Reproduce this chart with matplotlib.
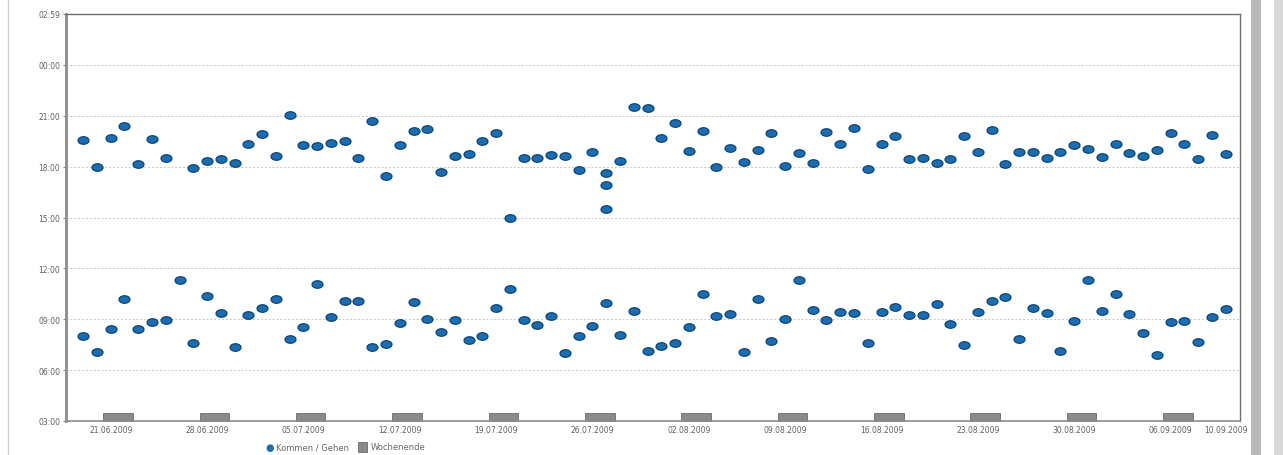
import numpy as np
import pandas as pd
import matplotlib
matplotlib.use("Agg")
import matplotlib.pyplot as plt
import matplotlib.dates as mdates
from matplotlib.path import Path
from matplotlib.transforms import Affine2D
from matplotlib.patches import Rectangle

# one value per day, 19.06.2009 .. 10.09.2009
days = pd.date_range("2009-06-19", "2009-09-10", freq="D")

kommen = [
    "08:01", "07:04", "08:25", "10:12", "08:25", "08:50", "08:57", "11:19", "07:36", "10:22",
    "09:22", "07:22", "09:15", "09:40", "10:12", "07:50", "08:32", "11:05", "09:08", "10:05",
    "10:05", "07:22", "07:32", "08:47", "10:01", "09:01", "08:15", "08:57", "07:47", "08:01",
    "09:40", "10:47", "08:57", "08:40", "09:11", "07:01", "08:01", "08:36", "09:58", "08:04",
    "09:29", "07:08", "07:25", "07:36", "08:32", "10:29", "09:11", "09:19", "07:04", "10:12",
    "07:43", "09:01", "11:19", "09:33", "08:57", "09:26", "09:22", "07:36", "09:26", "09:43",
    "09:15", "09:15", "09:54", "08:43", "07:29", "09:26", "10:05", "10:19", "07:50", "09:40",
    "09:22", "07:08", "08:54", "11:19", "09:29", "10:29", "09:19", "08:11", "06:53", "08:50",
    "08:54", "07:40", "09:08", "09:36",
]

gehen = [
    "19:35", "17:58", "19:41", "20:23", "18:09", "19:39", "18:31", None, "17:54", "18:20",
    "18:27", "18:13", "19:20", "19:55", "18:39", "21:04", "19:15", "19:13", "19:24", "19:31",
    "18:32", "20:40", "17:26", "19:15", "20:05", "20:14", "17:41", "18:38", "18:45", "19:31",
    "19:58", "14:59", "18:32", "18:32", "18:41", "18:38", "17:49", "18:52", "17:37", "18:19",
    "21:31", "21:27", "19:40", "20:34", "18:54", "20:05", "18:00", "19:06", "18:15", "18:59",
    "20:00", "18:02", "18:48", "18:12", "20:03", "19:20", "20:17", "17:52", "19:21", "19:48",
    "18:27", "18:32", "18:13", "18:27", "19:47", "18:53", "20:10", "18:09", "18:51", "18:52",
    "18:29", "18:52", "19:17", "19:02", "18:33", "19:19", "18:48", "18:37", "18:59", "19:58",
    "19:19", "18:27", "19:51", "18:45",
]

# extra bookings on 27.07.2009
extra_days = pd.to_datetime(["2009-07-27", "2009-07-27"])
extra_gehen = ["16:56", "15:29"]

tick_days = pd.to_datetime([
    "2009-06-21", "2009-06-28", "2009-07-05", "2009-07-12", "2009-07-19", "2009-07-26",
    "2009-08-02", "2009-08-09", "2009-08-16", "2009-08-23", "2009-08-30", "2009-09-06",
    "2009-09-10",
])
saturdays = pd.date_range("2009-06-20", "2009-09-05", freq="7D")

y_ticks = [3, 6, 9, 12, 15, 18, 21, 24, 27]
y_labels = ["03:00", "06:00", "09:00", "12:00", "15:00", "18:00", "21:00", "00:00", "02:59"]


def to_hours(t):
    if t is None:
        return np.nan
    h, m = t.split(":")
    return int(h) + int(m) / 60


# wide ellipse marker like the Java chart
ellipse = Path.unit_circle().transformed(Affine2D().scale(1.45, 1.0))

fig = plt.figure(figsize=(12.83, 4.56), dpi=100)
ax = fig.add_axes([66 / 1283, 34 / 456, 1174 / 1283, 407 / 456])

mk = dict(marker=ellipse, s=62, color="#1b6db0", edgecolors="#0c4478", linewidths=0.9, zorder=3)
ax.scatter(days, [to_hours(t) for t in kommen], **mk)
ax.scatter(days, [to_hours(t) for t in gehen], **mk)
ax.scatter(extra_days, [to_hours(t) for t in extra_gehen], **mk)

# weekend boxes sitting on the x axis
for sat in saturdays:
    x0 = mdates.date2num(sat) + 0.45
    ax.add_patch(Rectangle((x0, 3), 2.15, 0.45, facecolor="#8a8a8a", edgecolor="#6a6a6a",
                           linewidth=0.6, zorder=2, clip_on=False))

ax.set_xlim(mdates.date2num(pd.Timestamp("2009-06-17 18:00")),
            mdates.date2num(pd.Timestamp("2009-09-11 01:00")))
ax.set_ylim(3, 27)
ax.set_yticks(y_ticks)
ax.set_yticklabels(y_labels)
ax.set_xticks(mdates.date2num(tick_days))
ax.set_xticklabels([d.strftime("%d.%m.%Y") for d in tick_days])
ax.tick_params(axis="both", labelsize=5.5, labelcolor="#606060", color="#888888", length=2, pad=2)
ax.tick_params(axis="x", length=0, pad=3)

ax.grid(axis="y", color="#c8c8c8", linestyle=(0, (2, 2)), linewidth=0.7)
ax.set_axisbelow(True)
for side in ["left", "bottom"]:
    ax.spines[side].set_color("#8c8c8c")
ax.spines["left"].set_linewidth(2.0)
ax.spines["bottom"].set_linewidth(1.2)
for side in ["top", "right"]:
    ax.spines[side].set_color("#707070")
    ax.spines[side].set_linewidth(1.0)

# window frame bits around the chart
fig.add_artist(plt.Line2D([8 / 1283, 8 / 1283], [0, 1], color="#d0d0d0", linewidth=1.0))
fig.add_artist(Rectangle((1251 / 1283, 0), 10 / 1283, 1, facecolor="#b8b8b8",
                         edgecolor="none", transform=fig.transFigure))
fig.add_artist(Rectangle((1274 / 1283, 0), 9 / 1283, 1, facecolor="#d8d8d8",
                         edgecolor="none", transform=fig.transFigure))

# legend at the bottom edge of the window
ly = 8 / 456
fig.text(265 / 1283, ly, "\u25CF", color="#1b6db0", fontsize=7, va="center")
fig.text(276 / 1283, ly, "Kommen / Gehen", color="#666666", fontsize=6, va="center")
fig.add_artist(Rectangle((358 / 1283, ly - 0.011), 9 / 1283, 0.022, facecolor="#8a8a8a",
                         edgecolor="#6a6a6a", linewidth=0.6, transform=fig.transFigure))
fig.text(371 / 1283, ly, "Wochenende", color="#666666", fontsize=6, va="center")

fig.savefig("out.png", dpi=100)
